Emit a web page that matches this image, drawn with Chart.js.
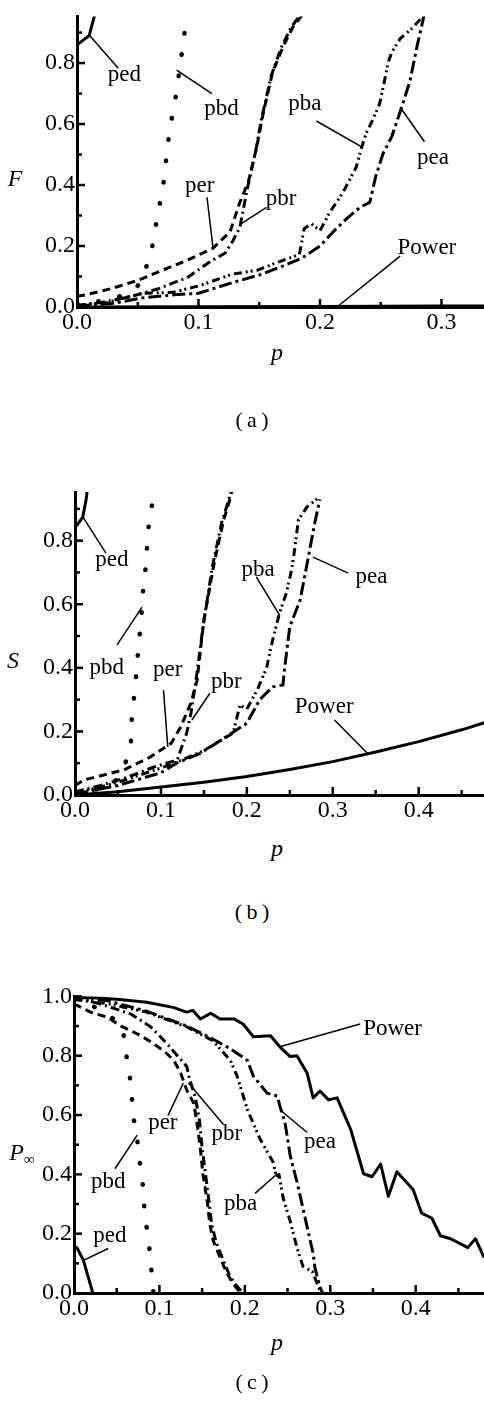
<!DOCTYPE html>
<html>
<head>
<meta charset="utf-8">
<script src="https://cdn.jsdelivr.net/npm/chart.js"></script>
<style>
body { margin: 0; background: #fff; width: 484px; height: 1404px; position: relative; overflow: hidden; font-family: "Liberation Serif", serif; }
canvas { position: absolute; left: 0; }
.t { position: absolute; font-size: 24px; line-height: 1; transform: translate(-50%, -50%); white-space: nowrap; color: #000; }
.cap { font-size: 22px; }
i { font-style: italic; }
sub { font-size: 15px; vertical-align: -4px; }
</style>
</head>
<body>
<canvas id="chartA" width="484" height="345" style="top:0px"></canvas>
<canvas id="chartB" width="484" height="360" style="top:470px"></canvas>
<canvas id="chartC" width="484" height="350" style="top:980px"></canvas>

<div class="t" style="left:15px;top:178px"><i>F</i></div>
<div class="t" style="left:277px;top:352px"><i>p</i></div>
<div class="t cap" style="left:252px;top:420px">(&thinsp;a&thinsp;)</div>

<div class="t" style="left:13px;top:660px"><i>S</i></div>
<div class="t" style="left:277px;top:848px"><i>p</i></div>
<div class="t cap" style="left:252px;top:912px">(&thinsp;b&thinsp;)</div>

<div class="t" style="left:22px;top:1153px"><i>P</i><sub>∞</sub></div>
<div class="t" style="left:277px;top:1342px"><i>p</i></div>
<div class="t cap" style="left:252px;top:1382px">(&thinsp;c&thinsp;)</div>

<script>
// ---- data: [p, value] ----
// (a) F vs p
const fPed = [[0, 0.86], [0.01, 0.89], [0.014, 0.95], [0.017, 1.0]]
const fPbd = [[0, 0.01], [0.02, 0.02], [0.035, 0.035], [0.048, 0.06], [0.054, 0.09], [0.058, 0.144], [0.062, 0.2], [0.065, 0.27], [0.071, 0.4], [0.076, 0.575], [0.082, 0.706], [0.086, 0.825], [0.09, 0.944], [0.092, 1.0]]
const fPer = [[0, 0.035], [0.007, 0.04], [0.028, 0.06], [0.05, 0.087], [0.075, 0.128], [0.091, 0.154], [0.112, 0.193], [0.126, 0.247], [0.134, 0.343], [0.141, 0.41], [0.148, 0.526], [0.153, 0.63], [0.161, 0.77], [0.17, 0.857], [0.178, 0.92], [0.186, 0.96]]
const fPbr = [[0, 0.005], [0.02, 0.015], [0.045, 0.035], [0.067, 0.06], [0.091, 0.097], [0.11, 0.15], [0.122, 0.177], [0.128, 0.215], [0.134, 0.26], [0.14, 0.385], [0.147, 0.51], [0.152, 0.62], [0.16, 0.76], [0.168, 0.85], [0.176, 0.915], [0.184, 0.96]]
const fPba = [[0, 0.005], [0.025, 0.015], [0.054, 0.045], [0.079, 0.048], [0.101, 0.07], [0.128, 0.108], [0.148, 0.12], [0.164, 0.145], [0.183, 0.172], [0.187, 0.257], [0.193, 0.273], [0.2, 0.25], [0.208, 0.31], [0.219, 0.376], [0.23, 0.46], [0.234, 0.52], [0.238, 0.57], [0.243, 0.61], [0.249, 0.665], [0.253, 0.74], [0.256, 0.8], [0.259, 0.835], [0.266, 0.88], [0.276, 0.915], [0.284, 0.95]]
const fPea = [[0, 0.003], [0.03, 0.012], [0.054, 0.03], [0.08, 0.04], [0.1, 0.045], [0.128, 0.08], [0.15, 0.105], [0.17, 0.135], [0.185, 0.16], [0.2, 0.2], [0.211, 0.247], [0.222, 0.29], [0.233, 0.327], [0.241, 0.343], [0.246, 0.43], [0.252, 0.504], [0.259, 0.558], [0.266, 0.64], [0.274, 0.74], [0.28, 0.857], [0.285, 0.944], [0.287, 1.0]]
const fPower = [[0, 0], [0.1, 0.001], [0.2, 0.002], [0.3, 0.003], [0.335, 0.003]]

// (b) S vs p
const sPed = [[0, 0.84], [0.009, 0.874], [0.013, 0.93], [0.016, 1.0]]
const sPbd = [[0, 0.005], [0.03, 0.02], [0.05, 0.05], [0.06, 0.11], [0.065, 0.164], [0.066, 0.236], [0.068, 0.29], [0.07, 0.34], [0.072, 0.4], [0.074, 0.478], [0.077, 0.54], [0.078, 0.6], [0.08, 0.667], [0.083, 0.73], [0.084, 0.79], [0.086, 0.855], [0.09, 0.918], [0.092, 1.0]]
const sPer = [[0, 0.03], [0.01, 0.047], [0.057, 0.079], [0.088, 0.12], [0.112, 0.163], [0.123, 0.214], [0.135, 0.29], [0.142, 0.36], [0.15, 0.55], [0.162, 0.73], [0.173, 0.865], [0.179, 0.918], [0.183, 0.96]]
const sPbr = [[0, 0.01], [0.03, 0.03], [0.06, 0.055], [0.092, 0.088], [0.119, 0.11], [0.13, 0.195], [0.135, 0.258], [0.142, 0.384], [0.149, 0.53], [0.16, 0.72], [0.171, 0.86], [0.178, 0.92], [0.182, 0.96]]
const sPba = [[0, 0.005], [0.05, 0.04], [0.1, 0.085], [0.12, 0.105], [0.15, 0.14], [0.175, 0.18], [0.184, 0.195], [0.192, 0.283], [0.2, 0.27], [0.212, 0.33], [0.223, 0.4], [0.23, 0.487], [0.238, 0.572], [0.246, 0.635], [0.252, 0.707], [0.256, 0.78], [0.26, 0.865], [0.27, 0.906], [0.283, 0.934]]
const sPea = [[0, 0.003], [0.05, 0.03], [0.1, 0.07], [0.118, 0.1], [0.145, 0.13], [0.18, 0.19], [0.2, 0.226], [0.215, 0.3], [0.23, 0.34], [0.242, 0.346], [0.244, 0.4], [0.25, 0.53], [0.262, 0.613], [0.271, 0.74], [0.279, 0.855], [0.285, 0.93]]
const sPower = [[0, 0], [0.05, 0.01], [0.1, 0.025], [0.15, 0.04], [0.2, 0.058], [0.25, 0.08], [0.3, 0.105], [0.35, 0.135], [0.4, 0.168], [0.45, 0.205], [0.48, 0.23]]

// (c) P_inf vs p
const cPower = [[0, 1.0], [0.05, 0.99], [0.085, 0.98], [0.116, 0.963], [0.132, 0.947], [0.139, 0.953], [0.148, 0.924], [0.16, 0.943], [0.171, 0.924], [0.187, 0.924], [0.198, 0.907], [0.21, 0.864], [0.23, 0.867], [0.241, 0.83], [0.253, 0.797], [0.261, 0.8], [0.273, 0.741], [0.28, 0.658], [0.288, 0.681], [0.298, 0.651], [0.308, 0.658], [0.324, 0.551], [0.339, 0.402], [0.349, 0.392], [0.359, 0.435], [0.368, 0.326], [0.378, 0.409], [0.397, 0.349], [0.407, 0.269], [0.419, 0.252], [0.429, 0.193], [0.441, 0.183], [0.461, 0.153], [0.47, 0.183], [0.48, 0.12]]
const cPed = [[0, 0.16], [0.004, 0.15], [0.011, 0.11], [0.017, 0.05], [0.022, 0]]
const cPbd = [[0, 0.99], [0.02, 0.97], [0.04, 0.94], [0.055, 0.9], [0.06, 0.85], [0.062, 0.784], [0.066, 0.718], [0.068, 0.651], [0.069, 0.598], [0.074, 0.53], [0.075, 0.465], [0.08, 0.4], [0.081, 0.332], [0.083, 0.266], [0.086, 0.2], [0.089, 0.133], [0.091, 0.066], [0.093, 0]]
const cPer = [[0, 0.975], [0.02, 0.946], [0.039, 0.93], [0.055, 0.9], [0.074, 0.874], [0.09, 0.847], [0.106, 0.814], [0.117, 0.784], [0.125, 0.741], [0.132, 0.684], [0.14, 0.641], [0.144, 0.575], [0.148, 0.485], [0.151, 0.399], [0.156, 0.309], [0.159, 0.233], [0.163, 0.176], [0.171, 0.12], [0.179, 0.066], [0.186, 0.033], [0.195, 0]]
const cPbr = [[0, 0.995], [0.012, 0.99], [0.039, 0.967], [0.067, 0.94], [0.09, 0.897], [0.109, 0.84], [0.121, 0.8], [0.132, 0.764], [0.135, 0.724], [0.142, 0.66], [0.147, 0.58], [0.15, 0.49], [0.154, 0.4], [0.158, 0.31], [0.161, 0.235], [0.166, 0.175], [0.174, 0.115], [0.182, 0.06], [0.19, 0.025], [0.198, 0]]
const cPba = [[0, 0.99], [0.04, 0.975], [0.085, 0.947], [0.132, 0.897], [0.163, 0.85], [0.183, 0.784], [0.191, 0.731], [0.203, 0.618], [0.218, 0.518], [0.233, 0.442], [0.237, 0.39], [0.24, 0.4], [0.245, 0.319], [0.253, 0.243], [0.261, 0.153], [0.268, 0.09], [0.279, 0.072], [0.285, 0.03], [0.289, 0]]
const cPea = [[0, 1.0], [0.04, 0.985], [0.085, 0.95], [0.132, 0.9], [0.16, 0.86], [0.183, 0.824], [0.203, 0.784], [0.21, 0.731], [0.226, 0.674], [0.238, 0.664], [0.241, 0.631], [0.247, 0.575], [0.253, 0.465], [0.261, 0.375], [0.268, 0.286], [0.274, 0.209], [0.28, 0.133], [0.282, 0.086], [0.288, 0.02], [0.291, 0]]

// axis ticks
const xMajorA = [0.1, 0.2, 0.3]
const xMinorA = [0.05, 0.15, 0.25]
const xMajorBC = [0.1, 0.2, 0.3, 0.4]
const xMinorBC = [0.05, 0.15, 0.25, 0.35, 0.45]
const yMajorAB = [0.2, 0.4, 0.6, 0.8]
const yMajorC = [0.2, 0.4, 0.6, 0.8, 1.0]
const yMinor = [0.1, 0.3, 0.5, 0.7, 0.9]

// labels with leader lines: text at, line from -> to (data coords)
const notesA = [
    { text: "ped", at: [0.039, 0.761], from: [0.034, 0.783], to: [0.01, 0.892] },
    { text: "pbd", at: [0.119, 0.648], from: [0.111, 0.7], to: [0.082, 0.777] },
    { text: "pba", at: [0.1875, 0.665], from: [0.197, 0.61], to: [0.234, 0.526] },
    { text: "pea", at: [0.293, 0.488], from: [0.286, 0.542], to: [0.266, 0.655] },
    { text: "per", at: [0.101, 0.398], from: [0.107, 0.36], to: [0.112, 0.193] },
    { text: "pbr", at: [0.168, 0.353], from: [0.156, 0.327], to: [0.134, 0.27] },
    { text: "Power", at: [0.288, 0.193], from: [0.266, 0.167], to: [0.214, 0.0] },
]
const notesB = [
    { text: "ped", at: [0.043, 0.739], from: [0.036, 0.761], to: [0.0093, 0.874] },
    { text: "pbd", at: [0.037, 0.4], from: [0.049, 0.472], to: [0.078, 0.591] },
    { text: "per", at: [0.108, 0.393], from: [0.103, 0.33], to: [0.108, 0.151] },
    { text: "pbr", at: [0.176, 0.355], from: [0.157, 0.32], to: [0.136, 0.236] },
    { text: "pba", at: [0.213, 0.707], from: [0.211, 0.686], to: [0.238, 0.566] },
    { text: "pea", at: [0.345, 0.686], from: [0.318, 0.698], to: [0.277, 0.748] },
    { text: "Power", at: [0.29, 0.277], from: [0.302, 0.236], to: [0.34, 0.132] },
]
const notesC = [
    { text: "Power", at: [0.373, 0.89], from: [0.335, 0.907], to: [0.241, 0.83] },
    { text: "per", at: [0.104, 0.575], from: [0.11, 0.598], to: [0.128, 0.708] },
    { text: "pbr", at: [0.179, 0.535], from: [0.175, 0.568], to: [0.134, 0.708] },
    { text: "pea", at: [0.288, 0.508], from: [0.273, 0.541], to: [0.241, 0.618] },
    { text: "pbd", at: [0.04, 0.375], from: [0.048, 0.419], to: [0.074, 0.532] },
    { text: "pba", at: [0.195, 0.299], from: [0.212, 0.336], to: [0.238, 0.402] },
    { text: "ped", at: [0.042, 0.193], from: [0.04, 0.15], to: [0.011, 0.11] },
]

const FONT = "Liberation Serif"

// line styles for each series
const styles = {
    Power: { dash: [], width: 3, cap: "butt" },
    ped: { dash: [], width: 3, cap: "butt" },
    pbd: { dash: [0.5, 21], width: 4.5, cap: "round" },
    per: { dash: [8, 5], width: 3, cap: "butt" },
    pbr: { dash: [9, 4, 2, 4], width: 3, cap: "butt" },
    pba: { dash: [8, 4, 2, 3, 2, 4], width: 3, cap: "butt" },
    pea: { dash: [13, 4, 3, 4], width: 3, cap: "butt" },
}

function dataset(name, pts) {
    let s = styles[name]
    return {
        label: name,
        data: pts.map(function (d) { return { x: d[0], y: d[1] } }),
        borderColor: "#000",
        borderWidth: s.width,
        borderDash: s.dash,
        borderCapStyle: s.cap,
        borderJoinStyle: "round",
        pointRadius: 0,
        tension: 0,
        fill: false,
    }
}

const axisDecor = {
    id: "axisDecor",
    afterDraw(chart, args, opts) {
        const ctx = chart.ctx
        const a = chart.chartArea
        const x = chart.scales.x
        const y = chart.scales.y
        ctx.save()
        ctx.strokeStyle = "#000"
        ctx.lineWidth = 2.5
        function seg(x1, y1, x2, y2) {
            ctx.beginPath()
            ctx.moveTo(x1, y1)
            ctx.lineTo(x2, y2)
            ctx.stroke()
        }
        opts.xMajor.forEach(function (v) { let px = x.getPixelForValue(v); seg(px, a.bottom, px, a.bottom - 8) })
        opts.xMinor.forEach(function (v) { let px = x.getPixelForValue(v); seg(px, a.bottom, px, a.bottom - 5) })
        opts.yMajor.forEach(function (v) { let py = y.getPixelForValue(v); seg(a.left, py, a.left + 8, py) })
        opts.yMinor.forEach(function (v) { let py = y.getPixelForValue(v); seg(a.left, py, a.left + 5, py) })

        // labels and leader lines
        ctx.lineWidth = 1.5
        ctx.fillStyle = "#000"
        ctx.font = "23px '" + FONT + "'"
        ctx.textAlign = "center"
        ctx.textBaseline = "middle"
        opts.notes.forEach(function (n) {
            seg(x.getPixelForValue(n.from[0]), y.getPixelForValue(n.from[1]), x.getPixelForValue(n.to[0]), y.getPixelForValue(n.to[1]))
            ctx.fillText(n.text, x.getPixelForValue(n.at[0]), y.getPixelForValue(n.at[1]))
        })
        ctx.restore()
    },
}

function makePanel(id, series, xMax, yMax, yWidth, xHeight, padTop, decor) {
    return new Chart(document.getElementById(id), {
        type: "line",
        data: { datasets: series },
        options: {
            responsive: false,
            animation: false,
            layout: { padding: { top: padTop, right: 0, left: 0, bottom: 0 } },
            plugins: { legend: { display: false }, tooltip: { enabled: false }, axisDecor: decor },
            scales: {
                x: {
                    type: "linear",
                    min: 0,
                    max: xMax,
                    grid: { display: false, drawTicks: false },
                    border: { display: true, width: 3, color: "#000" },
                    ticks: {
                        stepSize: 0.1,
                        includeBounds: false,
                        padding: 1,
                        color: "#000",
                        font: { family: FONT, size: 24 },
                        maxRotation: 0,
                        callback: function (v) { return v.toFixed(1) },
                    },
                    afterFit: function (s) { s.height = xHeight },
                },
                y: {
                    type: "linear",
                    min: 0,
                    max: yMax,
                    grid: { display: false, drawTicks: false },
                    border: { display: true, width: 3, color: "#000" },
                    ticks: {
                        stepSize: 0.2,
                        includeBounds: false,
                        padding: 2,
                        color: "#000",
                        font: { family: FONT, size: 24 },
                        callback: function (v) { return v.toFixed(1) },
                    },
                    afterFit: function (s) { s.width = yWidth },
                },
            },
        },
        plugins: [axisDecor],
    })
}

makePanel("chartA",
    [dataset("Power", fPower), dataset("ped", fPed), dataset("pbd", fPbd), dataset("per", fPer), dataset("pbr", fPbr), dataset("pba", fPba), dataset("pea", fPea)],
    0.335, 0.953, 77, 38, 10,
    { xMajor: xMajorA, xMinor: xMinorA, yMajor: yMajorAB, yMinor: yMinor, notes: notesA })

makePanel("chartB",
    [dataset("Power", sPower), dataset("ped", sPed), dataset("pbd", sPbd), dataset("per", sPer), dataset("pbr", sPbr), dataset("pba", sPba), dataset("pea", sPea)],
    0.476, 0.953, 75, 35, 22,
    { xMajor: xMajorBC, xMinor: xMinorBC, yMajor: yMajorAB, yMinor: yMinor, notes: notesB })

makePanel("chartC",
    [dataset("Power", cPower), dataset("ped", cPed), dataset("pbd", cPbd), dataset("per", cPer), dataset("pbr", cPbr), dataset("pba", cPba), dataset("pea", cPea)],
    0.48, 1.0, 74, 37, 12,
    { xMajor: xMajorBC, xMinor: xMinorBC, yMajor: yMajorC, yMinor: yMinor, notes: notesC })
</script>
</body>
</html>
